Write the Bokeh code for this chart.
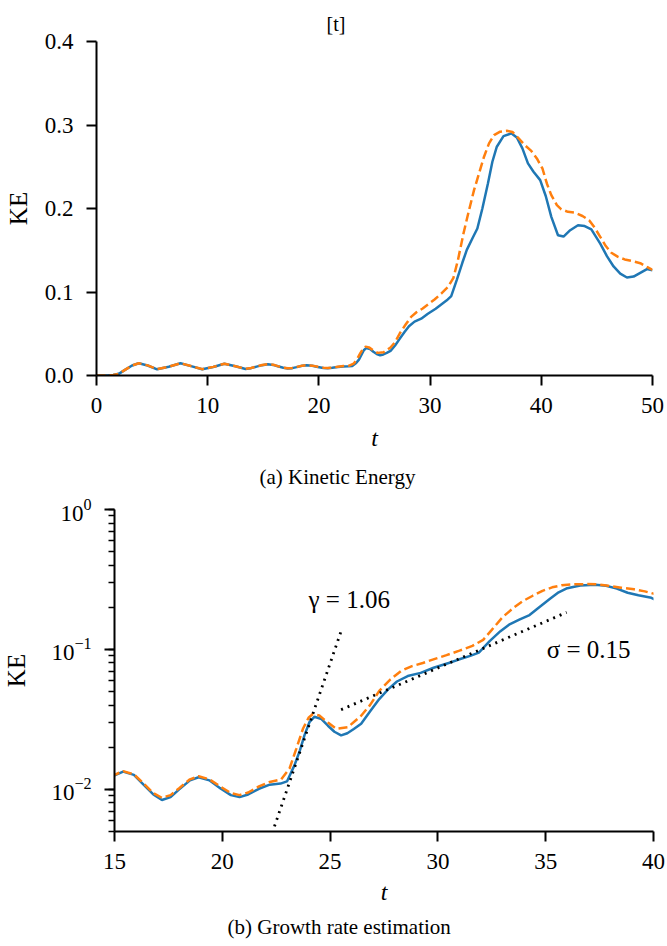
from bokeh.plotting import figure
from bokeh.models import Range1d, Title, Label, FixedTicker, PrintfTickFormatter, LogTicker
from bokeh.embed import file_html
from bokeh.resources import INLINE

# ---------------- data ----------------
t_blue = [0, 1.0, 1.5, 2.0, 2.6, 3.2, 3.8, 4.6, 5.45, 6.5,
          7.55, 8.5, 9.5, 10.5, 11.5, 12.5, 13.4, 13.9, 14.4, 14.9,
          15.4, 15.9, 16.3, 16.8, 17.2, 17.6, 18.0, 18.5, 18.9, 19.4,
          19.9, 20.4, 20.8, 21.2, 21.7, 22.2, 22.7, 23.0, 23.35, 23.6,
          23.81, 24.04, 24.27, 24.6, 24.9, 25.2, 25.51, 25.8, 26.1, 26.44,
          26.85, 27.28, 27.7, 28.1, 28.6, 29.2, 29.8, 30.5, 31.0, 31.5,
          31.9, 32.4, 32.9, 33.3, 33.8, 34.25, 34.7, 35.2, 35.6, 36.0,
          36.6, 37.3, 37.8, 38.3, 38.8, 39.3, 39.9, 40.4, 40.9, 41.5,
          42.0, 42.6, 43.3, 43.9, 44.5, 45.3, 45.9, 46.5, 47.1, 47.7,
          48.3, 48.9, 49.5, 50.0]
ke_blue = [0.0, 0.0, 0.0005, 0.002, 0.007, 0.012, 0.0146, 0.012, 0.0074, 0.0105,
           0.0146, 0.0112, 0.0074, 0.0102, 0.0140, 0.0110, 0.0078, 0.0088, 0.0106, 0.0124,
           0.0134, 0.0127, 0.0110, 0.0092, 0.0084, 0.0088, 0.0100, 0.0116, 0.0122, 0.0116,
           0.0102, 0.0091, 0.0088, 0.0092, 0.0101, 0.0108, 0.0110, 0.0114, 0.0149, 0.0190,
           0.0243, 0.0302, 0.0330, 0.0318, 0.0285, 0.0258, 0.0243, 0.0252, 0.0270, 0.0294,
           0.0360, 0.0442, 0.0520, 0.0590, 0.0645, 0.0680, 0.0740, 0.0800, 0.0850, 0.0900,
           0.0950, 0.1146, 0.1350, 0.1504, 0.1640, 0.1760, 0.2000, 0.2300, 0.2560, 0.2740,
           0.2866, 0.2900, 0.2850, 0.2720, 0.2540, 0.2440, 0.2340, 0.2150, 0.1900, 0.1680,
           0.1664, 0.1740, 0.1800, 0.1790, 0.1750, 0.1580, 0.1430, 0.1306, 0.1220, 0.1174,
           0.1185, 0.1230, 0.1274, 0.1260]

t_orange = [0, 1.0, 1.5, 2.0, 2.6, 3.2, 3.8, 4.6, 5.45, 6.5,
            7.55, 8.5, 9.5, 10.5, 11.5, 12.5, 13.4, 13.9, 14.4, 14.9,
            15.4, 15.9, 16.3, 16.8, 17.2, 17.6, 18.0, 18.5, 18.9, 19.4,
            19.9, 20.4, 20.8, 21.2, 21.7, 22.2, 22.73, 23.12, 23.43, 23.74,
            24.0, 24.2, 24.5, 24.9, 25.28, 25.82, 26.44, 26.85, 27.28, 27.8,
            28.29, 28.8, 29.3, 29.9, 30.4, 31.0, 31.6, 32.1, 32.5, 33.0,
            33.5, 33.95, 34.4, 34.85, 35.3, 35.75, 36.3, 36.9, 37.4, 37.9,
            38.5, 39.1, 39.6, 40.1, 40.5, 40.9, 41.4, 41.8, 42.4, 43.0,
            43.7, 44.3, 44.8, 45.3, 45.8, 46.3, 46.9, 47.5, 48.2, 48.9,
            49.5, 50.0]
ke_orange = [0.0, 0.0, 0.0005, 0.002, 0.007, 0.012, 0.0147, 0.0121, 0.0076, 0.0106,
             0.0147, 0.0113, 0.0076, 0.0103, 0.0141, 0.0111, 0.0080, 0.0090, 0.0107, 0.0125,
             0.0135, 0.0128, 0.0112, 0.0094, 0.0087, 0.0091, 0.0102, 0.0118, 0.0124, 0.0118,
             0.0105, 0.0094, 0.0091, 0.0095, 0.0105, 0.0113, 0.0118, 0.0141, 0.0195, 0.0271,
             0.0325, 0.0346, 0.0337, 0.0300, 0.0271, 0.0278, 0.0336, 0.0400, 0.0506, 0.0610,
             0.0702, 0.0760, 0.0800, 0.0860, 0.0910, 0.0980, 0.1060, 0.1170, 0.1380, 0.1700,
             0.1980, 0.2220, 0.2420, 0.2620, 0.2780, 0.2878, 0.2920, 0.2930, 0.2917, 0.2850,
             0.2760, 0.2690, 0.2600, 0.2480, 0.2300, 0.2160, 0.2040, 0.1990, 0.1960, 0.1950,
             0.1910, 0.1860, 0.1770, 0.1660, 0.1550, 0.1470, 0.1420, 0.1390, 0.1370, 0.1345,
             0.1300, 0.1265]

# fitted growth lines (bottom panel)
gamma_t = [22.42, 25.51]
gamma_ke = [0.00544, 0.135]
sigma_t = [25.51, 35.97]
sigma_ke = [0.0371, 0.184]

gamma_label = "γ = 1.06"
gamma_pos = (24.0, 0.226)
sigma_label = "σ = 0.15"
sigma_pos = (35.05, 0.100)

top_xticks = [0, 10, 20, 30, 40, 50]
top_yticks = [0.0, 0.1, 0.2, 0.3, 0.4]
bot_xticks = [15, 20, 25, 30, 35, 40]

BLUE = "#1f77b4"
ORANGE = "#ff7f0e"
SERIF = "Liberation Serif"


def style(p, log_y=False):
    p.outline_line_color = None
    p.xgrid.grid_line_color = None
    p.ygrid.grid_line_color = None
    p.background_fill_color = "white"
    p.border_fill_color = "white"
    for ax in p.axis:
        ax.axis_line_width = 2
        ax.axis_line_color = "black"
        ax.major_tick_line_width = 2
        ax.major_tick_line_color = "black"
        ax.major_tick_out = 10
        ax.major_tick_in = 0
        ax.minor_tick_line_width = 1.5
        ax.minor_tick_line_color = "black"
        ax.minor_tick_out = 6
        ax.minor_tick_in = 0
        ax.major_label_text_font = SERIF
        ax.major_label_text_font_size = "23px"
        ax.major_label_text_color = "black"
        ax.axis_label_text_font = SERIF
        ax.axis_label_text_color = "black"
    p.xaxis.minor_tick_line_color = None
    if not log_y:
        p.yaxis.minor_tick_line_color = None
    p.xaxis.axis_label = "t"
    p.xaxis.axis_label_text_font_style = "italic"
    p.xaxis.axis_label_text_font_size = "24px"
    p.xaxis.major_label_standoff = 12
    p.yaxis.axis_label = "KE"
    p.yaxis.axis_label_text_font_style = "normal"
    p.yaxis.axis_label_text_font_size = "25px"
    p.yaxis.major_label_standoff = 13


# ---------------- top panel ----------------
p1 = figure(width=665, height=497,
            min_border_left=96, min_border_right=13,
            min_border_top=41, min_border_bottom=116,
            x_range=Range1d(0, 50), y_range=Range1d(0, 0.4),
            output_backend="svg", toolbar_location=None)
p1.title.text = "[t]"
p1.title.text_font = SERIF
p1.title.text_font_size = "20px"
p1.title.text_font_style = "normal"
p1.title.text_color = "black"
p1.title.align = "left"
p1.title.offset = 230
p1.title.vertical_align = "top"
p1.title.standoff = 10
style(p1)
p1.xaxis.ticker = FixedTicker(ticks=top_xticks)
p1.yaxis.ticker = FixedTicker(ticks=top_yticks)
p1.yaxis.formatter = PrintfTickFormatter(format="%.1f")
p1.xaxis.axis_label_standoff = 9
p1.yaxis.axis_label_standoff = 10

p1.line(t_blue, ke_blue, line_color=BLUE, line_width=2.5)
p1.line(t_orange, ke_orange, line_color=ORANGE, line_width=2.5, line_dash="9 4")

p1.add_layout(Title(text="(a) Kinetic Energy", text_font=SERIF, text_font_size="21px",
                    text_font_style="normal", text_color="black",
                    align="left", offset=163, standoff=18), "below")

# ---------------- bottom panel ----------------
tb = [t for t in t_blue if t >= 14]
kb = [k for t, k in zip(t_blue, ke_blue) if t >= 14]
to = [t for t in t_orange if t >= 14]
ko = [k for t, k in zip(t_orange, ke_orange) if t >= 14]

p2 = figure(width=665, height=447,
            min_border_left=113, min_border_right=12,
            min_border_top=12, min_border_bottom=111,
            x_range=Range1d(15, 40), y_range=Range1d(0.005, 1.0),
            y_axis_type="log",
            output_backend="svg", toolbar_location=None)
p2.title.text = ""
style(p2, log_y=True)
p2.xaxis.ticker = FixedTicker(ticks=bot_xticks)
p2.yaxis.ticker = LogTicker(num_minor_ticks=10)
p2.xaxis.axis_label_standoff = 7
p2.yaxis.axis_label_standoff = 18

p2.line(tb, kb, line_color=BLUE, line_width=2.5)
p2.line(to, ko, line_color=ORANGE, line_width=2.5, line_dash="9 4")
p2.line(gamma_t, gamma_ke, line_color="black", line_width=2.8, line_dash="2 5")
p2.line(sigma_t, sigma_ke, line_color="black", line_width=2.8, line_dash="2 5")

p2.add_layout(Label(x=gamma_pos[0], y=gamma_pos[1], text=gamma_label,
                    text_font=SERIF, text_font_size="25px", text_color="black",
                    text_baseline="middle", text_align="left"))
p2.add_layout(Label(x=sigma_pos[0], y=sigma_pos[1], text=sigma_label,
                    text_font=SERIF, text_font_size="25px", text_color="black",
                    text_baseline="middle", text_align="left"))

p2.add_layout(Title(text="(b) Growth rate estimation", text_font=SERIF, text_font_size="21px",
                    text_font_style="normal", text_color="black",
                    align="left", offset=113, standoff=11), "below")

open("out.html", "w").write(file_html([p1, p2], INLINE))
